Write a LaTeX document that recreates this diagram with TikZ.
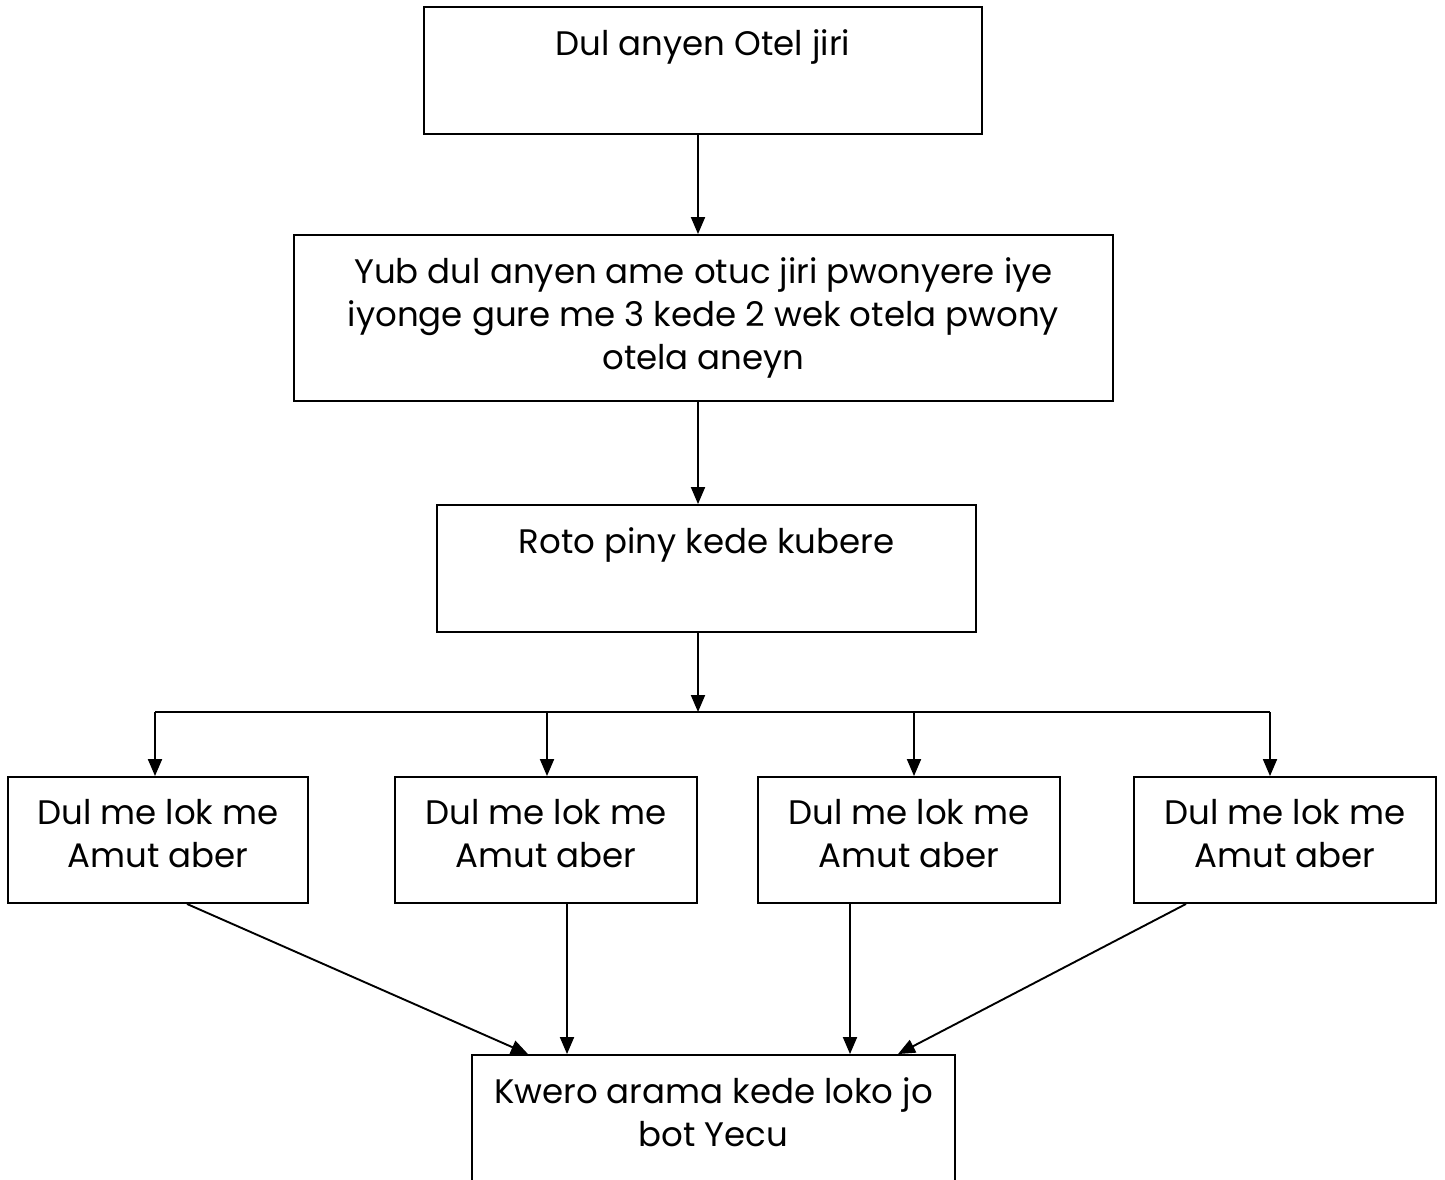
\documentclass[tikz,border=0pt]{standalone}
\usepackage{fontspec}
\setmainfont{Poppins}
\usetikzlibrary{arrows.meta,calc}
\begin{document}
\begin{tikzpicture}[x=1pt,y=-1pt,
  box/.style={draw, line width=1.9pt, rectangle, inner sep=0pt},
  txt/.style={font=\fontsize{34}{43}\selectfont, align=center, inner sep=0pt, anchor=north, yshift=-23pt},
  arr/.style={line width=1.9pt, -{Triangle[length=17pt,width=14pt]}},
  ln/.style={line width=1.9pt}]
\useasboundingbox (0,0) rectangle (1445,1179);
\node[box, minimum width=558, minimum height=127, label={[txt]north:Dul anyen Otel jiri}] (b1) at (703,70.5) {};
\node[box, minimum width=819, minimum height=166, label={[txt]north:Yub dul anyen ame otuc jiri pwonyere iye\\iyonge gure me 3 kede 2 wek otela pwony\\otela aneyn}] (b2) at (703.5,318) {};
\node[box, minimum width=539, minimum height=127, label={[txt]north:Roto piny kede kubere}] (b3) at (706.5,568.5) {};
\node[box, minimum width=300, minimum height=126, label={[txt]north:Dul me lok me\\Amut aber}] (s1) at (158,840) {};
\node[box, minimum width=302, minimum height=126, label={[txt]north:Dul me lok me\\Amut aber}] (s2) at (546,840) {};
\node[box, minimum width=302, minimum height=126, label={[txt]north:Dul me lok me\\Amut aber}] (s3) at (909,840) {};
\node[box, minimum width=302, minimum height=126, label={[txt]north:Dul me lok me\\Amut aber}] (s4) at (1285,840) {};
\node[box, minimum width=483, minimum height=195, label={[txt]north:Kwero arama kede loko jo\\bot Yecu}] (b5) at (713.5,1152.5) {};
\coordinate (ax) at (698,0);
\coordinate (j) at (698,712);
\coordinate (jl) at (155,712);
\coordinate (jr) at (1270,712);
\draw[arr] (b1.south -| ax) -- (b2.north -| ax);
\draw[arr] (b2.south -| ax) -- (b3.north -| ax);
\draw[arr] (b3.south -| ax) -- (j);
\draw[ln] (jl) -- (jr);
\draw[arr] (jl) -- (s1.north -| jl);
\draw[arr] (j -| 547,0) -- (s2.north -| 547,0);
\draw[arr] (j -| 914,0) -- (s3.north -| 914,0);
\draw[arr] (jr) -- (s4.north -| jr);
\coordinate (e1) at (528,1055);
\coordinate (e4) at (898,1055);
\draw[arr] (s1.south -| 187,0) -- (b5.north -| e1);
\draw[arr] (s2.south -| 567,0) -- (b5.north -| 567,0);
\draw[arr] (s3.south -| 850,0) -- (b5.north -| 850,0);
\draw[arr] (s4.south -| 1186,0) -- (b5.north -| e4);
\end{tikzpicture}
\end{document}
